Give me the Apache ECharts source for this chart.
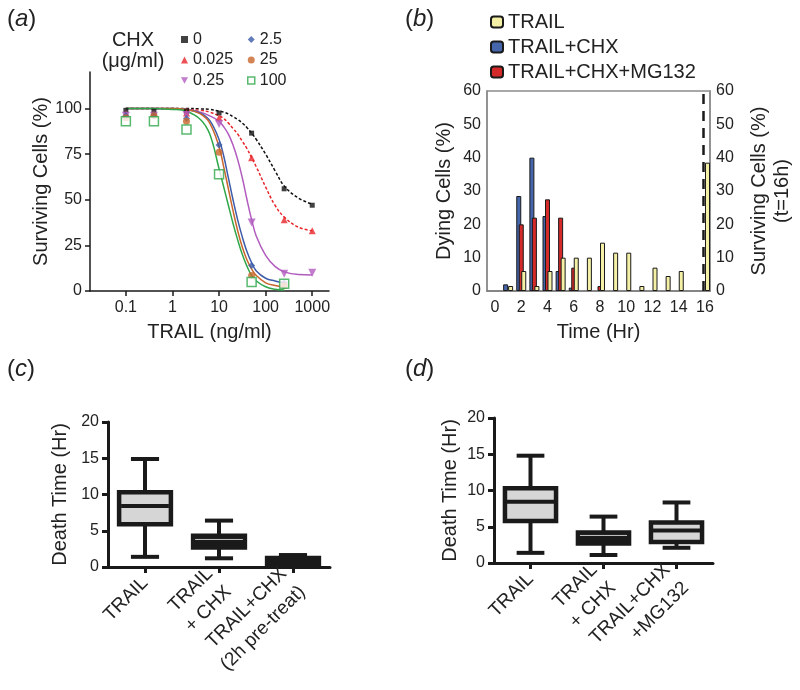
<!DOCTYPE html>
<html>
<head>
<meta charset="utf-8">
<script src="https://cdn.jsdelivr.net/npm/echarts@6/dist/echarts.min.js"></script>
<style>
  html, body { margin: 0; padding: 0; background: #fff; }
  #main { width: 800px; height: 690px; }
</style>
</head>
<body>
<div id="main"></div>
<script>
// ---- panel (a): survival vs TRAIL dose ----
var trailConc = [0.1, 0.4, 2, 10, 50, 250, 1000];
var chxNames = ['0', '0.025', '0.25', '2.5', '25', '100'];
var surv0    = [99, 98.5, 98.5, 97.5, 86.5, 56, 47];
var surv0025 = [97, 97, 97.5, 95, 73, 39, 33];
var surv025  = [96, 96, 96.5, 91.5, 37.5, 9.5, 10];
var surv25a  = [96, 96.5, 94.5, 80, 14, 4.5];
var surv25b  = [95, 96, 93, 76, 8.5, 3];
var surv100  = [93, 93, 88.5, 64, 5, 4];

// fitted curves (x = log10 TRAIL)
var fitLogX  = [-1, -0.5, 0, 0.3, 0.6, 0.8, 1.0, 1.1, 1.2, 1.3, 1.4, 1.5, 1.6, 1.7, 1.8, 2.0, 2.2, 2.4, 2.7, 3.0];
var fit0     = [100, 100, 100, 100, 99.8, 99.5, 98.5, 98, 97, 95.5, 94, 92, 89.5, 86.5, 83, 75, 66, 57.5, 51, 47.5];
var fit0025  = [100, 100, 100, 99.5, 99, 98, 96, 94.5, 92, 89, 86, 82, 78, 73, 68, 57, 47, 40.5, 35, 33];
var fit025   = [100, 100, 99.8, 99.5, 98, 96, 93, 90, 86, 80, 72, 62, 50, 39, 30, 19.5, 13.5, 10.5, 9, 8.8];
var fit25a   = [100, 100, 100, 99.5, 97.5, 93.5, 83, 74, 62, 50, 39, 29.5, 21.5, 15.5, 11, 7, 5.5, 4.5];
var fit25b   = [100, 100, 100, 99.5, 97, 92, 79, 68, 56, 44, 33, 24, 17, 12, 8.5, 4.5, 3, 2.3];
var fit100   = [100, 100, 99.5, 98.5, 94, 86, 67, 57, 47, 37, 28, 20, 13.5, 8.5, 5.5, 2.3, 1, 0.5];
var xTicksA  = [0.1, 1, 10, 100, 1000];
var yTicksA  = [0, 25, 50, 75, 100];

// ---- panel (b): dying cells per hour ----
var hours        = [1, 2, 3, 4, 5, 6, 7, 8, 9, 10, 11, 12, 13, 14, 15, 16];
var dyingChx     = [2, 28.5, 40, 22.5, 6, 1, 0, 0, 0, 0, 0, 0, 0, 0, 0, 0];
var dyingChxMg   = [0, 20, 22, 27.5, 22, 7, 0, 1.5, 0, 0, 0, 0, 0, 0, 0, 0];
var dyingTrail   = [1.5, 6, 1.5, 6, 10, 10, 10, 14.5, 11.5, 11.5, 1.5, 7, 4.5, 6, 0, 38.5];
var timeTicks    = [0, 2, 4, 6, 8, 10, 12, 14, 16];
var survivalCut  = 15.7;

// ---- panels (c), (d): death time box plots [min, q1, median, q3, max] ----
var catsC  = ['TRAIL', 'TRAIL\n+ CHX', 'TRAIL+CHX\n(2h pre-treat)'];
var boxesC = [[1.4, 5.9, 8.4, 10.3, 14.9], [1.2, 2.7, 3.8, 4.3, 6.4], [0.2, 0.45, 0.9, 1.25, 1.65]];
var catsD  = ['TRAIL', 'TRAIL\n+ CHX', 'TRAIL+CHX\n+MG132'];
var boxesD = [[1.4, 5.8, 8.45, 10.3, 14.8], [1.1, 2.7, 3.8, 4.2, 6.4], [2.1, 2.9, 4.5, 5.6, 8.35]];

var ff = '"Liberation Sans", Arial, Helvetica, sans-serif';
var ink = '#1a1a1a';
var colA = ['#111111', '#e8262b', '#b25bbf', '#3c5ca9', '#c8662c', '#2fa84b'];

var myChart = echarts.init(document.getElementById('main'));

function logPts(vals) {
    return vals.map(function (v, i) { return [Math.log10(trailConc[i]), v]; });
}
function fitPts(vals) {
    return vals.map(function (v, i) { return [fitLogX[i], v]; });
}
function barPts(vals) {
    var out = [];
    vals.forEach(function (v, i) { if (v > 0) out.push([hours[i], v]); });
    return out;
}

function boxRenderer(style) {
    return function (params, api) {
        var i = api.value(0);
        var lo = api.coord([i, api.value(1)]);
        var q1 = api.coord([i, api.value(2)]);
        var md = api.coord([i, api.value(3)]);
        var q3 = api.coord([i, api.value(4)]);
        var hi = api.coord([i, api.value(5)]);
        var band = api.size([1, 0])[0];
        var bw = band * 0.7, cw = band * 0.38;
        var x = lo[0];
        var k = params.dataIndex;
        var ln = function (x1, y1, x2, y2, c, w) {
            return { type: 'line', shape: { x1: x1, y1: y1, x2: x2, y2: y2 }, style: { stroke: c, lineWidth: w } };
        };
        return {
            type: 'group',
            children: [
                ln(x, hi[1], x, q3[1], ink, 4),
                ln(x, q1[1], x, lo[1], ink, 4),
                ln(x - cw / 2, hi[1], x + cw / 2, hi[1], ink, 4),
                ln(x - cw / 2, lo[1], x + cw / 2, lo[1], ink, 4),
                { type: 'rect', shape: { x: x - bw / 2, y: q3[1], width: bw, height: q1[1] - q3[1] },
                  style: { fill: style.fill[k], stroke: ink, lineWidth: 4.5 } },
                ln(x - bw / 2 + 2, md[1], x + bw / 2 - 2, md[1], style.median[k], style.medianWidth[k])
            ]
        };
    };
}

var styleC = { fill: ['#d6d6d6', ink, ink], median: [ink, '#c8c8c8', ink], medianWidth: [4, 1, 4] };
var styleD = { fill: ['#d6d6d6', ink, '#d6d6d6'], median: [ink, '#c8c8c8', ink], medianWidth: [4, 1, 4] };

var blackAxis = { show: true, onZero: false, lineStyle: { color: ink, width: 1.5 } };
var thickAxis = { show: true, onZero: false, lineStyle: { color: ink, width: 3 } };
var txt = function (size) { return { fontSize: size, fontFamily: ff, color: '#222' }; };

var series = [];
var fits = [fit0, fit0025, fit025, fit25a, fit25b, fit100];
fits.forEach(function (f, i) {
    series.push({
        name: 'fit ' + chxNames[i], type: 'line', xAxisIndex: 0, yAxisIndex: 0,
        data: fitPts(f), showSymbol: false, smooth: 0.4, silent: true,
        lineStyle: { color: colA[i], width: 1.5, type: i < 2 ? [3, 2] : 'solid' }, z: 2
    });
});
var survs = [surv0, surv0025, surv025, surv25a, surv25b, surv100];
var syms = [
    { symbol: 'rect', size: 5 },
    { symbol: 'triangle', size: 7 },
    { symbol: 'triangle', size: 8, rotate: 180 },
    { symbol: 'diamond', size: 7 },
    { symbol: 'circle', size: 7 },
    { symbol: 'rect', size: 9 }
];
survs.forEach(function (s, i) {
    series.push({
        name: chxNames[i], type: 'scatter', xAxisIndex: 0, yAxisIndex: 0,
        data: logPts(s), symbol: syms[i].symbol, symbolSize: syms[i].size, symbolRotate: syms[i].rotate || 0,
        itemStyle: i === 5 ? { color: '#fff', borderColor: colA[i], borderWidth: 1.5 } : { color: colA[i] },
        z: 3
    });
});

var barBorder = { borderColor: ink, borderWidth: 1 };
series.push({
    name: 'TRAIL+CHX', type: 'bar', xAxisIndex: 1, yAxisIndex: 1, data: barPts(dyingChx),
    barWidth: 5, barGap: '-50%', itemStyle: Object.assign({ color: '#4566ab' }, barBorder)
});
series.push({
    name: 'TRAIL+CHX+MG132', type: 'bar', xAxisIndex: 1, yAxisIndex: 1, data: barPts(dyingChxMg),
    barWidth: 5, barGap: '-50%', itemStyle: Object.assign({ color: '#d42a2a' }, barBorder)
});
series.push({
    name: 'TRAIL', type: 'bar', xAxisIndex: 1, yAxisIndex: 1, data: barPts(dyingTrail),
    barWidth: 5, barGap: '-50%', itemStyle: Object.assign({ color: '#f4f0a6' }, barBorder),
    markLine: {
        silent: true, symbol: 'none', label: { show: false },
        lineStyle: { color: ink, type: [10, 7], width: 2.5 },
        data: [{ xAxis: survivalCut }]
    }
});

series.push({
    name: 'boxC', type: 'custom', xAxisIndex: 2, yAxisIndex: 3,
    data: boxesC.map(function (b, i) { return [i].concat(b); }),
    encode: { x: 0, y: [1, 2, 3, 4, 5] }, renderItem: boxRenderer(styleC), z: 3
});
series.push({
    name: 'boxD', type: 'custom', xAxisIndex: 3, yAxisIndex: 4,
    data: boxesD.map(function (b, i) { return [i].concat(b); }),
    encode: { x: 0, y: [1, 2, 3, 4, 5] }, renderItem: boxRenderer(styleD), z: 3
});

var catAxis = function (idx, cats) {
    return {
        gridIndex: idx, type: 'category', data: cats,
        axisLine: thickAxis,
        axisTick: { show: true, alignWithLabel: true, length: 6, lineStyle: { color: ink, width: 3 } },
        axisLabel: Object.assign({ rotate: 45, interval: 0, margin: 13, lineHeight: 26 }, txt(19)),
        splitLine: { show: false }
    };
};
var deathAxis = function (idx, gap) {
    return {
        gridIndex: idx, type: 'value', min: 0, max: 20, interval: 5,
        axisLine: thickAxis,
        axisTick: { show: true, length: 6, lineStyle: { color: ink, width: 3 } },
        axisLabel: Object.assign({ margin: 9 }, txt(16)),
        splitLine: { show: false },
        name: 'Death Time (Hr)', nameLocation: 'middle', nameGap: gap, nameTextStyle: txt(20)
    };
};

var option = {
    animation: false,
    backgroundColor: '#fff',
    textStyle: { fontFamily: ff },
    grid: [
        { left: 90, top: 72, width: 239, height: 219, outerBoundsMode: 'none' },
        { left: 487, top: 91, width: 223, height: 200, show: true, borderColor: '#8c8c8c', borderWidth: 1.5, outerBoundsMode: 'none' },
        { left: 108, top: 422, width: 222, height: 145, outerBoundsMode: 'none' },
        { left: 494, top: 418, width: 219, height: 145, outerBoundsMode: 'none' }
    ],
    legend: [
        {
            orient: 'vertical', left: 176, top: 25, itemWidth: 7, itemHeight: 7, itemGap: 1.5,
            textStyle: Object.assign({ lineHeight: 19 }, txt(16)), selectedMode: false,
            data: [
                { name: '0', icon: 'rect' },
                { name: '0.025', icon: 'triangle' },
                { name: '0.25', icon: 'path://M0,0 L10,0 L5,9 Z' }
            ]
        },
        {
            orient: 'vertical', left: 242, top: 25, itemWidth: 7, itemHeight: 7, itemGap: 1.5,
            textStyle: Object.assign({ lineHeight: 19 }, txt(16)), selectedMode: false,
            data: [
                { name: '2.5', icon: 'diamond' },
                { name: '25', icon: 'circle' },
                { name: '100', icon: 'rect', itemStyle: { color: '#fff', borderColor: colA[5], borderWidth: 1.5 } }
            ]
        },
        {
            orient: 'vertical', left: 485, top: 6, itemWidth: 12, itemHeight: 11, itemGap: 3,
            textStyle: Object.assign({ lineHeight: 22 }, txt(20)), selectedMode: false,
            data: ['TRAIL', 'TRAIL+CHX', 'TRAIL+CHX+MG132']
        }
    ],
    xAxis: [
        {
            gridIndex: 0, type: 'value', min: -1.77, max: 3.36,
            axisLine: blackAxis,
            axisTick: { show: true, length: 5, customValues: xTicksA.map(Math.log10), lineStyle: { color: ink, width: 1.5 } },
            axisLabel: Object.assign({
                margin: 9, customValues: xTicksA.map(Math.log10),
                formatter: function (v) { return String(xTicksA[Math.round(v) + 1]); }
            }, txt(16)),
            splitLine: { show: false },
            name: 'TRAIL (ng/ml)', nameLocation: 'middle', nameGap: 31, nameTextStyle: txt(20)
        },
        {
            gridIndex: 1, type: 'value', min: -0.61, max: 16.38,
            axisLine: { show: true, onZero: false, lineStyle: { color: '#7a7a7a', width: 1.5 } },
            axisTick: { show: false },
            axisLabel: Object.assign({ margin: 9, customValues: timeTicks }, txt(16)),
            splitLine: { show: false },
            name: 'Time (Hr)', nameLocation: 'middle', nameGap: 31, nameTextStyle: txt(20)
        },
        catAxis(2, catsC),
        catAxis(3, catsD)
    ],
    yAxis: [
        {
            gridIndex: 0, type: 'value', min: 0, max: 120,
            axisLine: blackAxis,
            axisTick: { show: true, length: 5, customValues: yTicksA, lineStyle: { color: ink, width: 1.5 } },
            axisLabel: Object.assign({ margin: 8, customValues: yTicksA }, txt(16)),
            splitLine: { show: false },
            name: 'Surviving Cells (%)', nameLocation: 'middle', nameGap: 38, nameTextStyle: txt(20)
        },
        {
            gridIndex: 1, type: 'value', min: 0, max: 60, interval: 10,
            axisLine: { show: true, onZero: false, lineStyle: { color: '#8c8c8c', width: 1.5 } },
            axisTick: { show: false },
            axisLabel: Object.assign({ margin: 6 }, txt(16)),
            splitLine: { show: false },
            name: 'Dying Cells (%)', nameLocation: 'middle', nameGap: 33, nameTextStyle: txt(20)
        },
        {
            gridIndex: 1, type: 'value', position: 'right', min: 0, max: 60, interval: 10,
            axisLine: { show: true, onZero: false, lineStyle: { color: '#8c8c8c', width: 1.5 } },
            axisTick: { show: false },
            axisLabel: Object.assign({ margin: 6 }, txt(16)),
            splitLine: { show: false },
            name: 'Surviving Cells (%)\n(t=16h)', nameLocation: 'middle', nameGap: 38, nameRotate: 90,
            nameTextStyle: Object.assign({ lineHeight: 23 }, txt(20))
        },
        deathAxis(2, 38),
        deathAxis(3, 34)
    ],
    graphic: [
        { type: 'text', x: 7, y: 7, style: { text: '({i|a})', fontSize: 24, fontFamily: ff, fill: '#222', rich: { i: { fontStyle: 'italic', fontSize: 24, fontFamily: ff } } } },
        { type: 'text', x: 405, y: 7, style: { text: '({i|b})', fontSize: 24, fontFamily: ff, fill: '#222', rich: { i: { fontStyle: 'italic', fontSize: 24, fontFamily: ff } } } },
        { type: 'text', x: 7, y: 357, style: { text: '({i|c})', fontSize: 24, fontFamily: ff, fill: '#222', rich: { i: { fontStyle: 'italic', fontSize: 24, fontFamily: ff } } } },
        { type: 'text', x: 405, y: 357, style: { text: '({i|d})', fontSize: 24, fontFamily: ff, fill: '#222', rich: { i: { fontStyle: 'italic', fontSize: 24, fontFamily: ff } } } },
        { type: 'text', x: 133, y: 40, style: { text: 'CHX', fontSize: 20, fontFamily: ff, fill: '#222', align: 'center', verticalAlign: 'middle' } },
        { type: 'text', x: 133, y: 61, style: { text: '(μg/ml)', fontSize: 20, fontFamily: ff, fill: '#222', align: 'center', verticalAlign: 'middle' } }
    ],
    series: series
};
option && myChart.setOption(option);
</script>
</body>
</html>
